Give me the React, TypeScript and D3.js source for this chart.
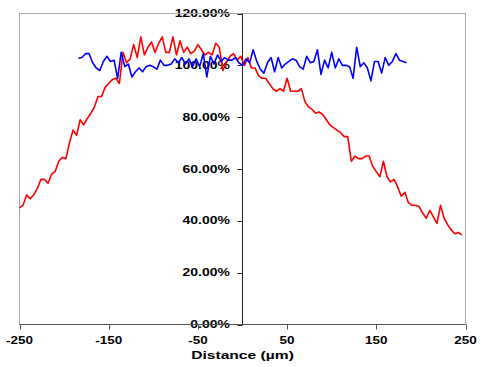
import React, { useEffect, useRef } from "react";
import * as d3 from "d3";

// red profile, every 4 µm from -250
const redStart = -250;
const redStep = 4;
const redValues = [
  45, 46, 50, 48.5, 50, 52.5, 56, 56, 54.5, 58, 59, 63, 64.5, 64, 70, 75, 73, 79, 77, 79.5,
  81.5, 84, 88, 88, 91.5, 93, 94.5, 95, 93, 105, 101, 102.5, 108, 103, 111, 104, 107, 109, 105, 108.5,
  111, 105, 105, 111, 104, 109.5, 105, 107, 104.5, 105.5, 108, 106, 104, 105, 104, 108.5, 107, 98, 101, 103.5,
  104.5, 102, 103.5, 100, 103, 99, 99, 96, 95, 95, 93, 91, 90, 91, 90, 95, 90, 90, 90, 91,
  86, 84, 83, 81.5, 82, 81, 79, 77, 76, 75, 74, 72.5, 72.5, 63, 65, 64, 64, 65, 65, 61,
  59, 57, 63, 57, 55, 56, 53, 49.5, 51, 47, 46, 46, 45.5, 43, 41, 44, 41.5, 39, 46, 41,
  38.5, 36.5, 35, 35.5, 34.6,
];

// blue profile, every 4 µm from -184
const blueStart = -184;
const blueStep = 4;
const blueValues = [
  102.7, 103, 104.5, 104.5, 101, 99, 98, 101.5, 103.5, 101.5, 102, 95, 105, 99.5, 100.5, 95.5, 97.5, 99, 97.5, 99.5,
  100, 99.5, 98.5, 102, 100, 100, 100.5, 102.5, 101, 103, 100.5, 102.5, 99.5, 102.5, 99.5, 104.5, 95.5, 103.5, 100.5, 104,
  101.5, 103, 102, 102, 103, 101, 100, 102.5, 101, 106, 101.5, 98.5, 97, 101, 103, 97.5, 103, 99, 100.5, 101.5,
  102.5, 102, 99.5, 98.5, 103.5, 101, 101.5, 106, 96.5, 102, 99, 105, 99, 102.5, 100, 100, 99.5, 95, 107, 99.5,
  101, 99, 94, 101.5, 101.5, 97, 103, 100, 101.5, 104.5, 102, 101.5, 101,
];

const xTicks = [-250, -150, -50, 50, 150, 250];
const yTicks = [0, 20, 40, 60, 80, 100, 120];

const App = () => {
  const ref = useRef<SVGSVGElement>(null);

  useEffect(() => {
    const svg = d3.select(ref.current);
    svg.selectAll("*").remove();

    const left = 19.5,
      right = 465.5,
      top = 13.5,
      bottom = 324.5;

    const x = d3.scaleLinear().domain([-250, 250]).range([left, right]);
    const y = d3.scaleLinear().domain([0, 120]).range([bottom, top]);
    const font = "Liberation Sans, Arial, sans-serif";

    // y labels sit under the data
    svg
      .append("g")
      .selectAll("text")
      .data(yTicks)
      .enter()
      .append("text")
      .attr("transform", (d) => `translate(230, ${y(d) + 3.6}) scale(1.4, 1)`)
      .attr("text-anchor", "end")
      .attr("font-family", font)
      .attr("font-weight", "bold")
      .attr("font-size", 10)
      .attr("fill", "#000")
      .text((d) => d3.format(".2f")(d) + "%");

    // frame
    svg
      .append("rect")
      .attr("x", left)
      .attr("y", top)
      .attr("width", right - left)
      .attr("height", bottom - top)
      .attr("fill", "none")
      .attr("stroke", "#a8a8a8");

    // x axis
    const xAxis = svg.append("g").attr("transform", `translate(0, ${bottom})`);
    xAxis
      .append("line")
      .attr("x1", left)
      .attr("x2", right)
      .attr("stroke", "#555");
    xAxis
      .selectAll("line.tick")
      .data(xTicks)
      .enter()
      .append("line")
      .attr("class", "tick")
      .attr("x1", (d) => Math.round(x(d)) + 0.5)
      .attr("x2", (d) => Math.round(x(d)) + 0.5)
      .attr("y1", 0)
      .attr("y2", 5)
      .attr("stroke", "#555");
    xAxis
      .selectAll("text")
      .data(xTicks)
      .enter()
      .append("text")
      .attr("transform", (d) => `translate(${x(d)}, 19.2) scale(1.35, 1)`)
      .attr("text-anchor", "middle")
      .attr("font-family", font)
      .attr("font-weight", "bold")
      .attr("font-size", 10)
      .attr("fill", "#000")
      .text((d) => d);

    svg
      .append("text")
      .attr("transform", `translate(${x(0)}, 359) scale(1.42, 1)`)
      .attr("text-anchor", "middle")
      .attr("font-family", font)
      .attr("font-weight", "bold")
      .attr("font-size", 11)
      .attr("fill", "#000")
      .text("Distance (µm)");

    // y axis crossing at x = 0
    const yAxis = svg.append("g").attr("transform", `translate(${x(0)}, 0)`);
    yAxis
      .append("line")
      .attr("y1", top)
      .attr("y2", bottom)
      .attr("stroke", "#222");
    yAxis
      .selectAll("line.tick")
      .data(yTicks)
      .enter()
      .append("line")
      .attr("class", "tick")
      .attr("x1", -5)
      .attr("x2", 0)
      .attr("y1", (d) => Math.round(y(d)) + 0.5)
      .attr("y2", (d) => Math.round(y(d)) + 0.5)
      .attr("stroke", "#222");

    const line = d3
      .line<[number, number]>()
      .x((d) => x(d[0]))
      .y((d) => y(d[1]));

    const redData: [number, number][] = redValues.map((v, i) => [redStart + i * redStep, v]);
    const blueData: [number, number][] = blueValues.map((v, i) => [blueStart + i * blueStep, v]);

    svg
      .append("path")
      .datum(redData)
      .attr("d", line)
      .attr("fill", "none")
      .attr("stroke", "#ff0000")
      .attr("stroke-width", 1.6)
      .attr("stroke-linejoin", "round");

    svg
      .append("path")
      .datum(blueData)
      .attr("d", line)
      .attr("fill", "none")
      .attr("stroke", "#0000ff")
      .attr("stroke-width", 1.6)
      .attr("stroke-linejoin", "round");
  }, []);

  return (
    <svg
      ref={ref}
      width={484}
      height={367}
      style={{ position: "absolute", left: 0, top: 0, background: "#fff" }}
    />
  );
};

export default App;
